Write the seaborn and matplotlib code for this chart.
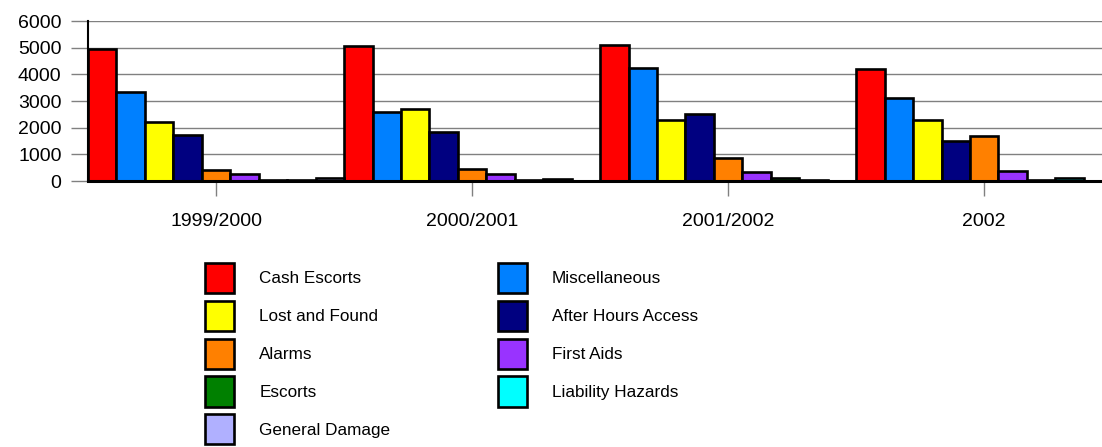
import pandas as pd
import matplotlib.pyplot as plt
import seaborn as sns
from matplotlib.patches import Patch

periods = ['1999/2000', '2000/2001', '2001/2002', '2002']
categories = ['Cash Escorts', 'Miscellaneous', 'Lost and Found', 'After Hours Access',
              'Alarms', 'First Aids', 'Escorts', 'Liability Hazards', 'General Damage']
colors = ['#FF0000', '#0080FF', '#FFFF00', '#000080', '#FF8000',
          '#9933FF', '#008000', '#00FFFF', '#B0B0FF']

cash_escorts = [4950, 5080, 5100, 4200]
miscellaneous = [3350, 2600, 4250, 3100]
lost_and_found = [2200, 2700, 2300, 2300]
after_hours_access = [1720, 1830, 2520, 1500]
alarms = [420, 440, 850, 1700]
first_aids = [270, 250, 330, 390]
escorts = [50, 50, 100, 50]
liability_hazards = [50, 70, 50, 100]
general_damage = [110, 10, 10, 10]

series = [cash_escorts, miscellaneous, lost_and_found, after_hours_access,
          alarms, first_aids, escorts, liability_hazards, general_damage]

rows = []
for cat, vals in zip(categories, series):
    for p, v in zip(periods, vals):
        rows.append({'period': p, 'category': cat, 'count': v})
df = pd.DataFrame(rows)

sns.set_style('white')
plt.rcParams['font.family'] = ['Liberation Sans', 'DejaVu Sans']
plt.rcParams['text.color'] = 'black'
plt.rcParams['xtick.labelcolor'] = 'black'
plt.rcParams['ytick.labelcolor'] = 'black'

fig = plt.figure(figsize=(11.02, 4.47), dpi=100)
ax = fig.add_axes([88 / 1102, (447 - 181) / 447, 1014 / 1102, 160 / 447])

sns.barplot(data=df, x='period', y='count', hue='category', order=periods,
            hue_order=categories, palette=colors, saturation=1, width=1.0, gap=0,
            edgecolor='black', linewidth=1.9, legend=False, ax=ax, zorder=3)

ax.set_xlim(-0.5, 3.46)
ax.set_ylim(0, 6000)
ax.set_yticks(range(0, 6001, 1000))
ax.yaxis.grid(True, color='#808080', linewidth=1, zorder=0)
ax.set_axisbelow(True)
ax.set_xlabel('')
ax.set_ylabel('')
for s in ['top', 'right']:
    ax.spines[s].set_visible(False)
ax.spines['left'].set_color('black')
ax.spines['left'].set_linewidth(1.5)
ax.spines['bottom'].set_color('black')
ax.spines['bottom'].set_linewidth(2.2)
ax.spines['bottom'].set_zorder(4)
ax.tick_params(axis='y', length=12, color='#808080', width=1, pad=7, labelsize=14)
ax.tick_params(axis='x', length=11, color='#808080', width=1, pad=12, labelsize=14,
               direction='out')
ax.tick_params(left=True, bottom=True)

order = [0, 2, 4, 6, 8, 1, 3, 5, 7]
handles = [Patch(facecolor=colors[i], edgecolor='black', linewidth=1.9, label=categories[i])
           for i in order]
fig.legend(handles=handles, loc='upper left', bbox_to_anchor=(205 / 1102, 1 - 263 / 447),
           ncol=2, frameon=False, fontsize=12.3, handlelength=1.72, handleheight=2.35,
           handletextpad=1.45, labelspacing=0.44, columnspacing=6.3, borderpad=0,
           borderaxespad=0)

fig.savefig('out.png', dpi=100)
